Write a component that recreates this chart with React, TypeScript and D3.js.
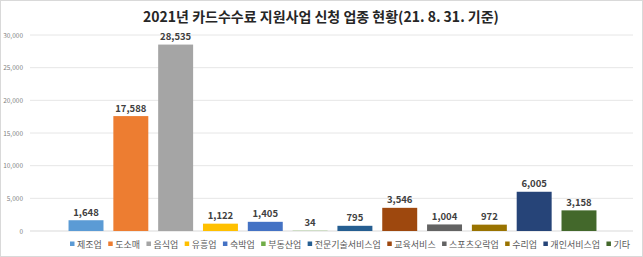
import React, { useEffect, useRef } from "react";
import * as d3 from "d3";

const categories = ["제조업", "도소매", "음식업", "유흥업", "숙박업", "부동산업", "전문기술서비스업", "교육서비스", "스포츠오락업", "수리업", "개인서비스업", "기타"];
const values = [1648, 17588, 28535, 1122, 1405, 34, 795, 3546, 1004, 972, 6005, 3158];
const colors = ["#5B9BD5", "#ED7D31", "#A5A5A5", "#FFC000", "#4472C4", "#70AD47", "#255E91", "#9E480E", "#636363", "#997300", "#264478", "#43682B"];
const yTicks = [0, 5000, 10000, 15000, 20000, 25000, 30000];
const title = "2021년 카드수수료 지원사업 신청 업종 현황(21. 8. 31. 기준)";

const W = 643;
const H = 257;
const FONT = "'Noto Sans CJK KR', 'Noto Sans', sans-serif";

export default function App() {
  const ref = useRef<SVGSVGElement | null>(null);

  useEffect(() => {
    const svg = d3.select(ref.current);
    svg.selectAll("*").remove();

    svg.append("rect").attr("x", 0.5).attr("y", 0.5).attr("width", W - 1).attr("height", H - 1)
      .attr("fill", "#fff").attr("stroke", "#d9d9d9");

    const y = d3.scaleLinear().domain([0, 30000]).range([231, 35]);
    const x = d3.scaleBand<string>().domain(categories).range([63.6, 601.4]).paddingInner(0.22).paddingOuter(0.11);
    const fmt = d3.format(",");

    svg.append("g").selectAll("line").data(yTicks).join("line")
      .attr("x1", 30).attr("x2", 633)
      .attr("y1", (d) => y(d)).attr("y2", (d) => y(d))
      .attr("stroke", (d) => (d === 0 ? "#d9d9d9" : "#e6e6e6")).attr("stroke-width", 1);

    svg.append("g").selectAll("text").data(yTicks).join("text")
      .attr("x", 23).attr("y", (d) => y(d) + 2.5)
      .attr("text-anchor", "end").attr("font-family", FONT).attr("font-size", 6.5).attr("fill", "#7f7f7f")
      .text((d) => fmt(d));

    svg.append("g").selectAll("rect").data(values).join("rect")
      .attr("x", (_, i) => x(categories[i])!)
      .attr("width", x.bandwidth())
      .attr("y", (d) => y(d))
      .attr("height", (d) => y(0) - y(d))
      .attr("fill", (_, i) => colors[i]);

    svg.append("g").selectAll("text").data(values).join("text")
      .attr("x", (_, i) => x(categories[i])! + x.bandwidth() / 2)
      .attr("y", (d) => y(d) - 4.5)
      .attr("text-anchor", "middle").attr("font-family", FONT).attr("font-size", 9.5).attr("font-weight", "bold")
      .attr("fill", "#404040")
      .text((d) => fmt(d));

    svg.append("text").attr("x", 321).attr("y", 22).attr("text-anchor", "middle")
      .attr("font-family", FONT).attr("font-size", 14).attr("font-weight", "bold").attr("fill", "#262626")
      .text(title);

    const lg = svg.append("g");
    const items = categories.map((c, i) => {
      const g = lg.append("g");
      g.append("rect").attr("x", 0).attr("y", -3).attr("width", 4.5).attr("height", 4.5).attr("fill", colors[i]);
      const t = g.append("text").attr("x", 7).attr("y", 3).attr("font-family", FONT).attr("font-size", 9).attr("fill", "#595959").text(c);
      const w = (t.node() as SVGTextElement).getComputedTextLength() + 7;
      return { g, w };
    });
    const start = 70, end = 630;
    const totalW = d3.sum(items, (d) => d.w);
    const gap = (end - start - totalW) / (items.length - 1);
    let cx = start;
    items.forEach((it) => {
      it.g.attr("transform", `translate(${cx},244.5)`);
      cx += it.w + gap;
    });
  }, []);

  return (
    <svg ref={ref} width={W} height={H} style={{ position: "fixed", left: 0, top: 0, display: "block" }} />
  );
}
